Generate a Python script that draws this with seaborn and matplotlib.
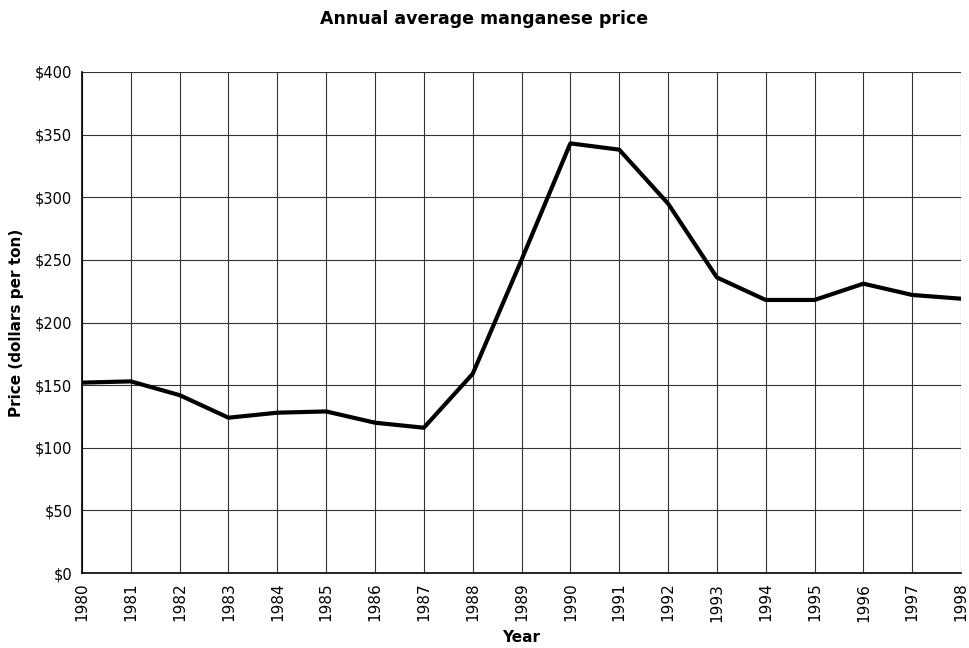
import numpy as np
import pandas as pd
import matplotlib.pyplot as plt
import seaborn as sns

# annual average manganese price
years = [1980, 1981, 1982, 1983, 1984, 1985, 1986, 1987, 1988, 1989,
         1990, 1991, 1992, 1993, 1994, 1995, 1996, 1997, 1998]
price = [152, 153, 142, 124, 128, 129, 120, 116, 159, 250,
         343, 338, 295, 236, 218, 218, 231, 222, 219]
y_ticks = [0, 50, 100, 150, 200, 250, 300, 350, 400]

df = pd.DataFrame({'Year': years, 'Price': price})

sns.set_style('white')
plt.rcParams['font.family'] = ['DejaVu Sans']
plt.rcParams['text.color'] = 'black'
plt.rcParams['axes.labelcolor'] = 'black'
plt.rcParams['xtick.color'] = 'black'
plt.rcParams['ytick.color'] = 'black'

fig = plt.figure(figsize=(9.69, 6.48), dpi=100)
ax = fig.add_axes([0.0846, 0.1157, 0.9072, 0.7732])

sns.lineplot(data=df, x='Year', y='Price', color='black', linewidth=3, ax=ax)

ax.set_xlim(1980, 1998)
ax.set_ylim(0, 400)
ax.set_xticks(years)
ax.set_xticklabels([str(y) for y in years], rotation=90, fontsize=11)
ax.set_yticks(y_ticks)
ax.set_yticklabels([f'${v}' for v in y_ticks], fontsize=10.5)

ax.grid(True, color='#333333', linewidth=0.8)
ax.set_axisbelow(True)
for side in ['top', 'right']:
    ax.spines[side].set_visible(False)
for side in ['left', 'bottom']:
    ax.spines[side].set_color('black')
    ax.spines[side].set_linewidth(1.2)
ax.tick_params(axis='both', direction='out', length=4, width=1, color='black', pad=3)

ax.set_xlabel('Year', fontsize=11, fontweight='bold', labelpad=6)
ax.set_ylabel('Price (dollars per ton)', fontsize=11, fontweight='bold', labelpad=8)
fig.suptitle('Annual average manganese price', fontsize=12.5, fontweight='bold', y=0.985)

fig.savefig('out.png', dpi=100)
